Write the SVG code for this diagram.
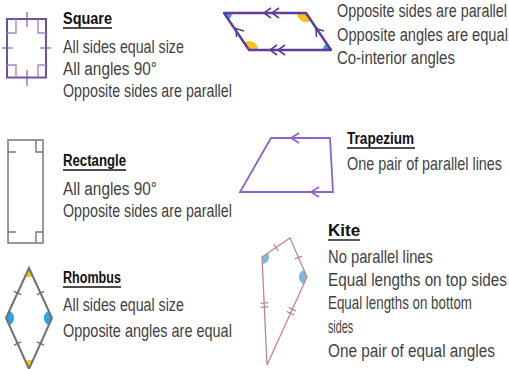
<svg xmlns="http://www.w3.org/2000/svg" width="509" height="369" viewBox="0 0 509 369">
<style>
.t{font-family:"Liberation Sans",Arial,sans-serif;font-size:19px;fill:#3f3f3f}
.h{font-family:"Liberation Sans",Arial,sans-serif;font-size:17px;font-weight:bold;fill:#111}
.ul{stroke:#111;stroke-width:1.4}
.blue{fill:#2ba6de}
.yel{fill:#f5c21e}
</style>
<rect width="509" height="369" fill="#fff"/>

<g id="square">
  <rect x="7" y="19" width="39" height="58.5" fill="none" stroke="#6b52a8" stroke-width="2"/>
  <path d="M16,19 V33 H7 M38,19 V33 H46 M7,65 H16 V77.5 M46,65 H38 V77.5" fill="none" stroke="#9d8cc8" stroke-width="1.4"/>
  <path d="M27,12 V27 M27,70 V86 M2,48 H13 M40,48 H51" stroke="#6b52a8" stroke-width="1.1"/>
  <text class="h" transform="translate(63,24) scale(0.85,1)">Square</text>
  <line class="ul" x1="63" y1="28" x2="112" y2="28"/>
  <text class="t" transform="translate(63,53) scale(0.749,1)">All sides equal size</text>
  <text class="t" transform="translate(63,75) scale(0.808,1)">All angles 90°</text>
  <text class="t" transform="translate(63,97) scale(0.751,1)">Opposite sides are parallel</text>
</g>

<g id="parallelogram">
  <path class="blue" d="M224,13 L232,13 A8,8 0 0 1 228.5,19.6 Z"/>
  <path class="yel" d="M306,13 L311,20.5 A9,9 0 0 1 297,13 Z"/>
  <path class="blue" d="M331,50 L323,50 A8,8 0 0 1 326.5,43.4 Z"/>
  <path class="yel" d="M249,50 L244,42.5 A9,9 0 0 1 258,50 Z"/>
  <path d="M224,13 H306 L331,50 H249 Z" fill="none" stroke="#5a3d9c" stroke-width="2.4" stroke-linejoin="round"/>
  <path d="M271,8 L264,13 L271,18 M279,8 L272,13 L279,18 M277,45 L270,50 L277,55 M285,45 L278,50 L285,55 M244,31 L236,28.5 L236.5,37 M324,31 L316,28.5 L316.5,37" fill="none" stroke="#5a3d9c" stroke-width="1.6"/>
  <text class="t" transform="translate(337,17) scale(0.756,1)">Opposite sides are parallel</text>
  <text class="t" transform="translate(337,40.5) scale(0.771,1)">Opposite angles are equal</text>
  <text class="t" transform="translate(337,64) scale(0.787,1)">Co-interior angles</text>
</g>

<g id="rectangle">
  <rect x="8" y="140" width="35" height="103" fill="none" stroke="#777" stroke-width="1.5"/>
  <path d="M36,140 V152 H43 M36,243 V232 H43 M8,152 H16 M8,232 H16" fill="none" stroke="#777" stroke-width="1.4"/>
  <text class="h" transform="translate(63,166) scale(0.776,1)">Rectangle</text>
  <line class="ul" x1="63" y1="170" x2="126" y2="170"/>
  <text class="t" transform="translate(63,195) scale(0.808,1)">All angles 90°</text>
  <text class="t" transform="translate(63,217) scale(0.751,1)">Opposite sides are parallel</text>
</g>

<g id="trapezium">
  <path d="M271,138 H330 L333,192 H240 Z" fill="none" stroke="#8b63c9" stroke-width="1.8"/>
  <path d="M299,133 L291,138 L299,143 M319,187 L311,192 L319,197" fill="none" stroke="#8b63c9" stroke-width="1.6"/>
  <text class="h" transform="translate(347,144) scale(0.8,1)">Trapezium</text>
  <line class="ul" x1="347" y1="148" x2="415" y2="148"/>
  <text class="t" transform="translate(347,170) scale(0.757,1)">One pair of parallel lines</text>
</g>

<g id="rhombus">
  <path class="yel" d="M29,268 L32.8,276.2 A9,9 0 0 1 25.2,276.2 Z"/>
  <path class="yel" d="M29,369 L25.2,360.8 A9,9 0 0 1 32.8,360.8 Z"/>
  <path class="blue" d="M6,318 L9.3,310.7 A8,8 0 0 1 9.3,325.3 Z"/>
  <path class="blue" d="M52,318 L48.7,325.3 A8,8 0 0 1 48.7,310.7 Z"/>
  <path d="M29,268 L52,318 L29,369 L6,318 Z" fill="none" stroke="#707070" stroke-width="2"/>
  <path d="M13.9,291.3 L21.1,294.7 M36.9,294.7 L44.1,291.3 M13.9,345.1 L21.1,341.9 M36.9,341.9 L44.1,345.1" stroke="#707070" stroke-width="1.3"/>
  <text class="h" transform="translate(63,283) scale(0.74,1)">Rhombus</text>
  <line class="ul" x1="63" y1="287" x2="121" y2="287"/>
  <text class="t" transform="translate(63,311) scale(0.749,1)">All sides equal size</text>
  <text class="t" transform="translate(63,337) scale(0.762,1)">Opposite angles are equal</text>
</g>

<g id="kite">
  <path d="M262,257 L267.8,253.1 A7,7 0 0 1 262.3,264 Z" fill="#7bbbd9"/>
  <path d="M307,277 L303.7,284.3 A8,8 0 0 1 303.8,269.7 Z" fill="#7bbbd9"/>
  <path d="M290,238 L307,277 L267,365 L262,257 Z" fill="none" stroke="#c4868c" stroke-width="1.3"/>
  <path d="M273.8,244.2 L278.2,250.8 M294.8,259.1 L302.2,255.9 M260.5,303.2 L268.5,302.8 M260.5,307.2 L268.5,306.8 M288.7,307.6 L295.9,311 M286.9,311.6 L294.1,315" stroke="#b07278" stroke-width="1.1"/>
  <text class="h" x="328" y="236">Kite</text>
  <line class="ul" x1="328" y1="240" x2="360" y2="240"/>
  <text class="t" transform="translate(328,263) scale(0.777,1)">No parallel lines</text>
  <text class="t" transform="translate(328,286) scale(0.803,1)">Equal lengths on top sides</text>
  <text class="t" transform="translate(328,309) scale(0.703,1)">Equal lengths on bottom</text>
  <text class="t" transform="translate(328,333) scale(0.564,1)">sides</text>
  <text class="t" transform="translate(328,357) scale(0.807,1)">One pair of equal angles</text>
</g>
</svg>
